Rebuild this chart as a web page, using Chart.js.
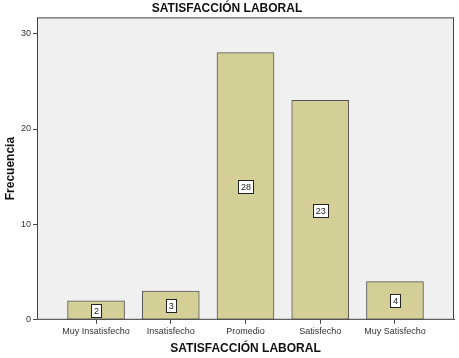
<!DOCTYPE html>
<html lang="es">
<head>
  <meta charset="UTF-8">
  <title>Satisfacción laboral</title>
  <script src="https://cdn.jsdelivr.net/npm/chart.js"></script>
  <style>
    html, body { margin: 0; padding: 0; background: #fff; }
    #wrap { width: 459px; height: 358px; }
  </style>
</head>
<body>
<div id="wrap"><canvas id="chart"></canvas></div>
<script>
  const categories = ['Muy Insatisfecho', 'Insatisfecho', 'Promedio', 'Satisfecho', 'Muy Satisfecho'];
  const frecuencia = [2, 3, 28, 23, 4];
  const yTicks = [0, 10, 20, 30];

  const FONT = '"Liberation Sans", Arial, sans-serif';

  // gray plot background + frame + value boxes in the middle of each bar
  const spssLook = {
    id: 'spssLook',
    beforeDatasetsDraw(chart) {
      const { ctx, chartArea: a } = chart;
      ctx.save();
      ctx.fillStyle = '#f0f0f0';
      ctx.fillRect(a.left, a.top, a.right - a.left, a.bottom - a.top);
      ctx.restore();
    },
    afterDatasetsDraw(chart) {
      const { ctx, chartArea: a, scales } = chart;
      ctx.save();
      ctx.strokeStyle = '#444';
      ctx.lineWidth = 1;
      ctx.strokeRect(a.left + 0.5, a.top + 0.5, a.right - a.left - 1, a.bottom - a.top - 1);
      ctx.font = '9px ' + FONT;
      ctx.textAlign = 'center';
      ctx.textBaseline = 'middle';
      frecuencia.forEach((v, i) => {
        const x = scales.x.getPixelForValue(i);
        const y = scales.y.getPixelForValue(v / 2);
        const w = ctx.measureText(String(v)).width + 5;
        const h = 13;
        ctx.fillStyle = '#fff';
        ctx.fillRect(Math.round(x - w / 2) + 0.5, Math.round(y - h / 2) + 0.5, w, h);
        ctx.strokeStyle = '#222';
        ctx.strokeRect(Math.round(x - w / 2) + 0.5, Math.round(y - h / 2) + 0.5, w, h);
        ctx.fillStyle = '#222';
        ctx.fillText(String(v), x + 0.5, y + 1);
      });
      ctx.restore();
    }
  };

  new Chart(document.getElementById('chart'), {
    type: 'bar',
    data: {
      datasets: [{
        data: frecuencia.map((v, i) => ({ x: i, y: v })),
        backgroundColor: '#d3cf97',
        borderColor: '#555',
        borderWidth: 1,
        borderSkipped: false,
        barThickness: 57
      }]
    },
    options: {
      responsive: true,
      maintainAspectRatio: false,
      animation: false,
      layout: { padding: { left: 0, right: 5, top: 0, bottom: 2 } },
      plugins: {
        legend: { display: false },
        tooltip: { enabled: false },
        title: {
          display: true,
          text: 'SATISFACCIÓN LABORAL',
          color: '#111',
          font: { family: FONT, size: 12, weight: 'bold' },
          padding: { top: 1, bottom: 2 }
        }
      },
      scales: {
        x: {
          type: 'linear',
          offset: false,
          min: -0.79,
          max: 4.79,
          afterBuildTicks: s => { s.ticks = categories.map((c, i) => ({ value: i })); },
          ticks: {
            callback: v => categories[v],
            color: '#333',
            font: { family: FONT, size: 9 },
            padding: 2,
            maxRotation: 0,
            autoSkip: false
          },
          grid: { drawOnChartArea: false, offset: false, tickLength: 4, color: '#444' },
          border: { color: '#444' },
          title: {
            display: true,
            text: 'SATISFACCIÓN LABORAL',
            color: '#111',
            font: { family: FONT, size: 12, weight: 'bold' },
            padding: { top: 3, bottom: 0 }
          }
        },
        y: {
          min: 0,
          max: 31.7,
          afterBuildTicks: s => { s.ticks = yTicks.map(v => ({ value: v })); },
          afterFit: s => { s.width = 37; },
          ticks: {
            color: '#333',
            font: { family: FONT, size: 9 },
            padding: 2
          },
          grid: { drawOnChartArea: false, tickLength: 4, color: '#444' },
          border: { color: '#444' },
          title: {
            display: true,
            text: 'Frecuencia',
            color: '#111',
            font: { family: FONT, size: 12, weight: 'bold' },
            padding: { top: 3, bottom: 6 }
          }
        }
      }
    },
    plugins: [spssLook]
  });
</script>
</body>
</html>
